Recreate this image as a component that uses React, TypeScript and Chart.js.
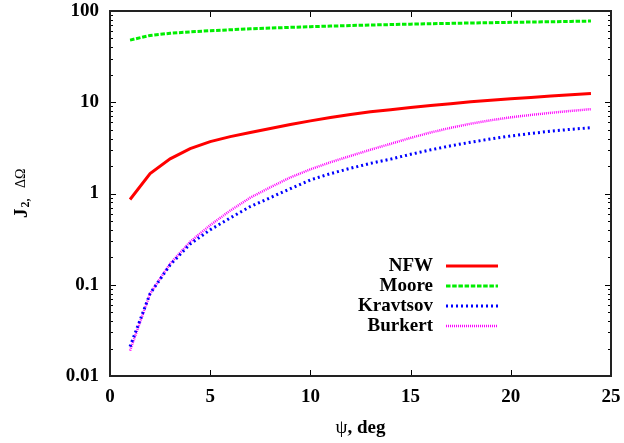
import React, { useEffect, useRef } from "react";
import { Chart, registerables } from "chart.js";

Chart.register(...registerables);

// ---- data ----
const psi = [1, 2, 3, 4, 5, 6, 7, 8, 9, 10, 11, 12, 13, 14, 15, 16, 17, 18, 19, 20, 21, 22, 23, 24];
const nfw = [0.86, 1.65, 2.4, 3.1, 3.7, 4.2, 4.65, 5.15, 5.7, 6.25, 6.8, 7.35, 7.85, 8.3, 8.75, 9.2, 9.65, 10.1, 10.5, 10.9, 11.3, 11.7, 12.1, 12.5];
const moore = [48, 54, 57, 59, 60.8, 62.3, 63.7, 65, 66.2, 67.3, 68.3, 69.3, 70.2, 71, 71.8, 72.5, 73.2, 73.9, 74.5, 75.1, 75.7, 76.3, 76.9, 77.6];
const kravtsov = [0.021, 0.08, 0.165, 0.28, 0.4, 0.54, 0.72, 0.9, 1.13, 1.41, 1.65, 1.89, 2.14, 2.38, 2.69, 3.01, 3.33, 3.65, 3.96, 4.27, 4.55, 4.82, 5.05, 5.26];
const burkert = [0.019, 0.08, 0.17, 0.296, 0.45, 0.65, 0.9, 1.17, 1.5, 1.84, 2.2, 2.58, 3.02, 3.5, 4.07, 4.66, 5.25, 5.82, 6.35, 6.84, 7.26, 7.66, 8.04, 8.4];

const seriesLabels = ["NFW", "Moore", "Kravtsov", "Burkert"];
const yTickValues = [0.01, 0.1, 1, 10, 100];
const yTickLabels = ["0.01", "0.1", "1", "10", "100"];
const xTickValues = [0, 5, 10, 15, 20, 25];
const xTickLabels = ["0", "5", "10", "15", "20", "25"];
const xTitleSymbol = "ψ";
const xTitleText = ", deg";
const yTitleMain = "J";
const yTitleSub = "2,";
const yTitleSym = "ΔΩ";

const FONT = "'Liberation Serif', 'Times New Roman', serif";

const toPoints = (ys: number[]) => psi.map((x, i) => ({ x, y: ys[i] }));

const framePlugin = {
  id: "gnuframe",
  afterDatasetsDraw(chart: any) {
    const { ctx, chartArea: a, scales } = chart;
    const xs = scales.x;
    const ys = scales.y;
    ctx.save();
    // inward ticks
    ctx.strokeStyle = "#000";
    ctx.lineWidth = 1;
    ctx.beginPath();
    for (const v of xTickValues) {
      const px = Math.round(xs.getPixelForValue(v)) + 0.5;
      ctx.moveTo(px, a.bottom);
      ctx.lineTo(px, a.bottom - 6);
      ctx.moveTo(px, a.top);
      ctx.lineTo(px, a.top + 6);
    }
    for (let d = -2; d <= 2; d++) {
      for (let m = 1; m <= 9; m++) {
        const v = m * Math.pow(10, d);
        if (v > 100.0001) break;
        const py = Math.round(ys.getPixelForValue(v)) + 0.5;
        const len = m === 1 ? 6 : 3;
        ctx.moveTo(a.left, py);
        ctx.lineTo(a.left + len, py);
        ctx.moveTo(a.right, py);
        ctx.lineTo(a.right - len, py);
      }
    }
    ctx.stroke();
    // frame
    ctx.strokeStyle = "#222";
    ctx.lineWidth = 2;
    ctx.strokeRect(a.left, a.top, a.right - a.left, a.bottom - a.top);

    // legend
    ctx.font = `bold 19px ${FONT}`;
    ctx.textAlign = "right";
    ctx.textBaseline = "middle";
    chart.data.datasets.forEach((ds: any, i: number) => {
      const yy = 266 + i * 20;
      ctx.fillStyle = "#000";
      ctx.fillText(ds.label, 433, yy + 0.5);
      ctx.strokeStyle = ds.borderColor;
      ctx.lineWidth = ds.borderWidth;
      ctx.setLineDash(ds.borderDash || []);
      ctx.lineCap = "butt";
      ctx.beginPath();
      ctx.moveTo(446, yy);
      ctx.lineTo(498, yy);
      ctx.stroke();
      ctx.setLineDash([]);
    });

    // x title
    ctx.fillStyle = "#000";
    ctx.textAlign = "left";
    ctx.textBaseline = "alphabetic";
    ctx.font = `19px ${FONT}`;
    const w1 = ctx.measureText(xTitleSymbol).width;
    ctx.font = `bold 19px ${FONT}`;
    const w2 = ctx.measureText(xTitleText).width;
    const cx = (a.left + a.right) / 2;
    const startX = cx - (w1 + w2) / 2;
    ctx.font = `19px ${FONT}`;
    ctx.fillText(xTitleSymbol, startX, 433);
    ctx.font = `bold 19px ${FONT}`;
    ctx.fillText(xTitleText, startX + w1, 433);

    // y title (rotated)
    ctx.save();
    ctx.rotate(-Math.PI / 2);
    ctx.font = `bold 19px ${FONT}`;
    ctx.fillText(yTitleMain, -218, 27);
    const wj = ctx.measureText(yTitleMain).width;
    ctx.font = `bold 12px ${FONT}`;
    ctx.fillText(yTitleSub, -218 + wj + 1, 29);
    ctx.font = `14px ${FONT}`;
    ctx.fillText(yTitleSym, -188, 24.5);
    ctx.restore();

    ctx.restore();
  },
};

export default function App() {
  const ref = useRef<HTMLCanvasElement | null>(null);
  useEffect(() => {
    if (!ref.current) return;
    const tickFont = { family: FONT, size: 19, weight: "bold" as const, lineHeight: 1 };
    const chart = new Chart(ref.current, {
      type: "line",
      data: {
        datasets: [
          {
            label: seriesLabels[0],
            data: toPoints(nfw),
            borderColor: "#ff0000",
            borderWidth: 3,
            borderDash: [],
            pointRadius: 0,
            tension: 0,
          },
          {
            label: seriesLabels[1],
            data: toPoints(moore),
            borderColor: "#00ee00",
            borderWidth: 3,
            borderDash: [4.5, 1.7],
            pointRadius: 0,
            tension: 0,
          },
          {
            label: seriesLabels[2],
            data: toPoints(kravtsov),
            borderColor: "#0000ff",
            borderWidth: 3,
            borderDash: [2, 3],
            pointRadius: 0,
            tension: 0,
          },
          {
            label: seriesLabels[3],
            data: toPoints(burkert),
            borderColor: "#ff00ff",
            borderWidth: 2.5,
            borderDash: [1, 1],
            pointRadius: 0,
            tension: 0,
          },
        ] as any,
      },
      options: {
        responsive: false,
        animation: false,
        devicePixelRatio: 1,
        layout: { padding: { top: 11, right: 13, left: 0, bottom: 0 } },
        plugins: { legend: { display: false }, tooltip: { enabled: false } },
        scales: {
          x: {
            type: "linear",
            min: 0,
            max: 25,
            grid: { display: false, drawTicks: false },
            border: { display: false },
            afterBuildTicks: (s: any) => {
              s.ticks = xTickValues.map((v) => ({ value: v }));
            },
            afterFit: (s: any) => {
              s.height = 67;
              s.paddingLeft = 0;
              s.paddingRight = 0;
            },
            ticks: {
              autoSkip: false,
              maxRotation: 0,
              padding: 12,
              color: "#000",
              font: tickFont,
              callback: (v: any) => xTickLabels[xTickValues.indexOf(Number(v))] ?? "",
            },
          },
          y: {
            type: "logarithmic",
            min: 0.01,
            max: 100,
            grid: { display: false, drawTicks: false },
            border: { display: false },
            afterBuildTicks: (s: any) => {
              s.ticks = yTickValues.map((v) => ({ value: v }));
            },
            afterFit: (s: any) => {
              s.width = 110;
              s.paddingTop = 0;
              s.paddingBottom = 0;
            },
            ticks: {
              autoSkip: false,
              padding: 11,
              color: "#000",
              font: tickFont,
              callback: (v: any) => {
                const idx = yTickValues.findIndex((t) => Math.abs(t - Number(v)) < 1e-9);
                return idx >= 0 ? yTickLabels[idx] : "";
              },
            },
          },
        },
      } as any,
      plugins: [framePlugin],
    });
    return () => chart.destroy();
  }, []);
  return (
    <div style={{ position: "absolute", left: 0, top: 0, width: 624, height: 443, background: "#fff" }}>
      <canvas ref={ref} width={624} height={443} style={{ display: "block" }} />
    </div>
  );
}
